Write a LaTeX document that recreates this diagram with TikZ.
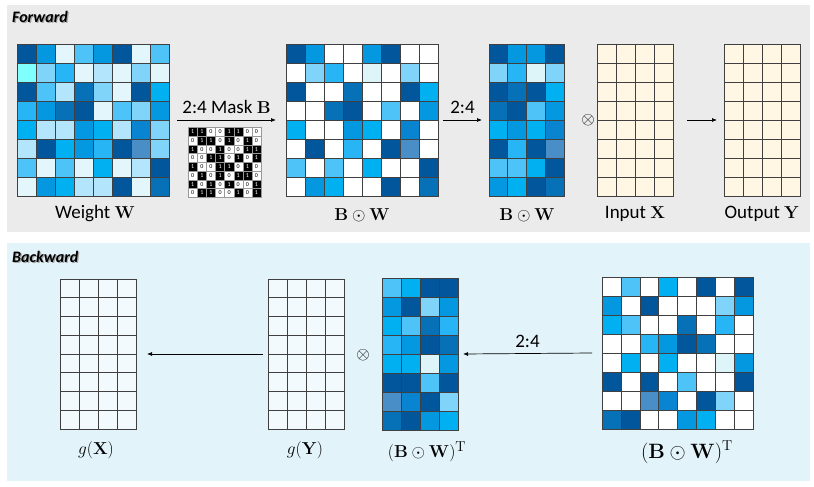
\documentclass[tikz,border=0pt]{standalone}
\usepackage[no-math]{fontspec}
\setmainfont{Carlito}
\usetikzlibrary{arrows.meta}
\definecolor{cD}{HTML}{02569B}
\definecolor{cM}{HTML}{0671B7}
\definecolor{cMM}{HTML}{0884D0}
\definecolor{cB}{HTML}{0498E0}
\definecolor{cC}{HTML}{00B0F0}
\definecolor{cL}{HTML}{27B5F5}
\definecolor{cLL}{HTML}{4DC3F7}
\definecolor{cP}{HTML}{80D4FA}
\definecolor{cPP}{HTML}{B3E5FC}
\definecolor{cX}{HTML}{DDF5F8}
\definecolor{cW}{HTML}{E3F6FC}
\definecolor{cT}{HTML}{80FFFF}
\definecolor{cS}{HTML}{4A8EC8}
\definecolor{fwdbg}{HTML}{EBEBEB}
\definecolor{bwdbg}{HTML}{E2F3FA}
\definecolor{cream}{HTML}{FFF7E4}
\definecolor{icy}{HTML}{F2FAFD}
\tikzset{
  gridline/.style={draw=black!75, line width=0.6pt},
  arr/.style={-{Latex[length=5pt,width=4pt]}, line width=0.7pt},
  lbl/.style={font=\fontsize{19}{22}\selectfont, inner sep=0pt},
  mlbl/.style={font=\fontsize{19}{22}\selectfont, inner sep=0pt},
  ttl/.style={font=\fontsize{16}{19}\selectfont\bfseries\itshape, inner sep=0pt, anchor=west},
  outline/.style={draw=black!75, line width=0.6pt, inner sep=0pt, outer sep=0pt, anchor=north west},
  otimesnode/.style={inner sep=0pt, font=\fontsize{18}{18}\selectfont}
}
% #1 name, #2 x, #3 y, #4 ncols, #5 nrows, #6 cell w, #7 cell h, #8 rows of colours
\newcommand\drawmat[8]{%
  \foreach \row [count=\i] in {#8} {
    \foreach \c [count=\j] in \row {
      \fill[\c] ({#2+(\j-1)*#6},{#3+(\i-1)*#7}) rectangle +(#6,#7);
    }
  }
  \foreach \k in {1,...,\numexpr#4-1\relax} {\draw[gridline] ({#2+\k*#6},#3) -- +(0,{#5*#7});}
  \foreach \k in {1,...,\numexpr#5-1\relax} {\draw[gridline] (#2,{#3+\k*#7}) -- +({#4*#6},0);}
  \node[outline, minimum width=#4*#6pt, minimum height=#5*#7pt] (#1) at (#2,#3) {};
}
% #1 name, #2 x, #3 y, #4 ncols, #5 nrows, #6 cell w, #7 cell h, #8 fill
\newcommand\plainmat[8]{%
  \fill[#8] (#2,#3) rectangle +({#4*#6},{#5*#7});
  \foreach \k in {1,...,\numexpr#4-1\relax} {\draw[gridline] ({#2+\k*#6},#3) -- +(0,{#5*#7});}
  \foreach \k in {1,...,\numexpr#5-1\relax} {\draw[gridline] (#2,{#3+\k*#7}) -- +({#4*#6},0);}
  \node[outline, minimum width=#4*#6pt, minimum height=#5*#7pt] (#1) at (#2,#3) {};
}
\begin{document}
\begin{tikzpicture}[x=1pt,y=-1pt]
\useasboundingbox (0,0) rectangle (814,487);
\fill[white] (0,0) rectangle (814,487);
% panels
\fill[fwdbg] (7,5) rectangle (810,232);
\fill[bwdbg] (7,243) rectangle (810,481);
\node[ttl, text=black!35] at (13.2,18.2) {Forward};
\node[ttl] (tf) at (12,17) {Forward};
\node[ttl, text=black!35] at (13.2,258.2) {Backward};
\node[ttl] (tb) at (12,257) {Backward};

% Weight W
\drawmat{W}{17}{44}{8}{8}{19}{19}{
 {cD,cB,cW,cLL,cB,cD,cW,cLL},
 {cT,cP,cL,cW,cPP,cW,cP,cW},
 {cD,cLL,cPP,cM,cP,cW,cD,cC},
 {cL,cB,cM,cD,cW,cLL,cP,cB},
 {cC,cPP,cPP,cB,cC,cPP,cMM,cP},
 {cPP,cD,cC,cB,cL,cD,cS,cP},
 {cLL,cW,cLL,cW,cC,cW,cPP,cD},
 {cW,cB,cC,cPP,cPP,cD,cW,cM}}
\node[lbl] (lW) at (95,214) {Weight $\mathbf{W}$};

% mask
\foreach \row [count=\i] in {
 {1,1,0,0,1,1,0,0},
 {0,1,1,0,1,0,1,0},
 {1,0,0,1,0,0,1,1},
 {0,0,1,1,0,1,0,1},
 {1,0,0,1,1,0,1,0},
 {0,1,0,1,0,1,1,0},
 {1,0,1,0,1,0,0,1},
 {0,1,1,0,0,1,0,1}} {
  \foreach \v [count=\j] in \row {
    \ifnum\v=1
      \node[draw=black!40, fill=black, text=white, minimum width=9.1pt, minimum height=8.75pt, inner sep=0pt, anchor=north west, font=\fontsize{6}{6}\selectfont] at ({188+(\j-1)*9.1},{127+(\i-1)*8.75}) {1};
    \else
      \node[draw=black!40, fill=white, text=black, minimum width=9.1pt, minimum height=8.75pt, inner sep=0pt, anchor=north west, font=\fontsize{6}{6}\selectfont] at ({188+(\j-1)*9.1},{127+(\i-1)*8.75}) {0};
    \fi
  }
}
\node[draw=black!40, line width=0.4pt, minimum width=72.8pt, minimum height=70pt, inner sep=0pt, anchor=north west] (mask) at (188,127) {};

% B o W
\drawmat{BW}{286}{44}{8}{8}{19}{19}{
 {cD,cB,white,white,cB,cD,white,white},
 {white,cP,cL,white,cX,white,cP,white},
 {cD,white,white,cM,white,white,cD,cC},
 {white,white,cM,cD,white,cLL,white,cB},
 {cC,white,white,cB,cC,white,cMM,white},
 {white,cD,white,cL,white,cD,cS,white},
 {cLL,white,cLL,white,cC,white,white,cD},
 {white,cB,cC,white,white,cD,white,cM}}
\node[mlbl] (lBW) at (362,215) {$\mathbf{B}\odot\mathbf{W}$};

% compressed
\drawmat{CW}{489}{44}{4}{8}{18.75}{19}{
 {cD,cB,cB,cD},
 {cP,cL,cX,cP},
 {cD,cM,cD,cC},
 {cM,cD,cLL,cB},
 {cC,cB,cC,cMM},
 {cD,cL,cD,cS},
 {cLL,cLL,cC,cD},
 {cB,cC,cD,cM}}
\node[mlbl] (lCW) at (527,215) {$\mathbf{B}\odot\mathbf{W}$};

\node[otimesnode] (ot1) at (588,120) {$\otimes$};

% Input X, Output Y
\plainmat{X}{597}{44}{4}{8}{19}{19}{cream}
\node[lbl] (lX) at (635,214) {Input $\mathbf{X}$};
\plainmat{Y}{724}{44}{4}{8}{19}{19}{cream}
\node[lbl] (lY) at (762,214) {Output $\mathbf{Y}$};

% forward arrows
\draw[arr] ([xshift=8pt]W.east) -- node[above=6pt, lbl] {2:4 Mask $\mathbf{B}$} ([xshift=-10pt]BW.west);
\draw[arr] ([xshift=5pt]BW.east) -- node[above=6pt, lbl] {2:4} ([xshift=-7pt]CW.west);
\draw[arr] ([xshift=14pt]X.east) -- ([xshift=-7pt]Y.west);

% Backward
\plainmat{gX}{60}{279}{4}{8}{19}{18.75}{icy}
\node[mlbl] (lgX) at (96,450) {$g(\mathbf{X})$};
\plainmat{gY}{268}{279}{4}{8}{19}{18.75}{icy}
\node[mlbl] (lgY) at (305,450) {$g(\mathbf{Y})$};
\node[otimesnode] (ot2) at (363,355) {$\otimes$};

\drawmat{CT}{382}{278}{4}{8}{19}{19}{
 {cLL,cC,cD,cD},
 {cB,cD,cP,cB},
 {cC,cLL,cM,cL},
 {cL,cB,cD,cM},
 {cC,cC,cX,cB},
 {cD,cD,cLL,cD},
 {cS,cMM,cD,cP},
 {cM,cD,cB,cC}}
\node[mlbl] (lCT) at (427,452) {$(\mathbf{B}\odot\mathbf{W})^{\mathrm{T}}$};

\drawmat{T}{602}{277}{8}{8}{18.9}{19}{
 {white,cLL,white,cC,white,cD,white,cD},
 {cB,white,cD,white,white,white,cP,cB},
 {cC,cLL,white,white,cM,white,cL,white},
 {white,white,cL,cB,cD,cM,white,white},
 {white,cC,white,cC,white,white,cX,cB},
 {cD,white,cD,white,cLL,white,white,cD},
 {white,white,cS,cMM,white,cD,cP,white},
 {cM,cD,white,white,cB,cC,white,white}}
\node[mlbl, font=\fontsize{20}{23}\selectfont] (lT) at (687,452) {$(\mathbf{B}\odot\mathbf{W})^{\mathrm{T}}$};

\draw[arr] ([xshift=-5pt]gY.west) -- ([xshift=11pt]gX.east);
\draw[arr] ([xshift=-10pt]T.west) -- node[above=6pt, lbl] {2:4} ([xshift=5pt]CT.east);
\end{tikzpicture}
\end{document}
